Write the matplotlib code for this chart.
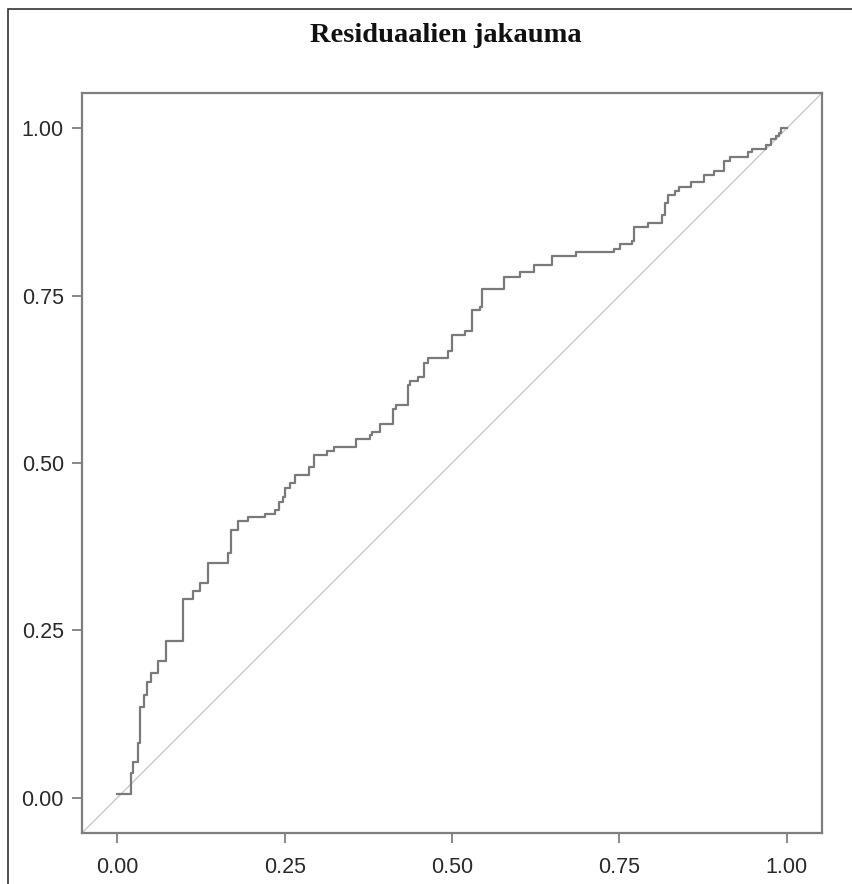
import matplotlib.pyplot as plt
from matplotlib.patches import Rectangle

# step breakpoints of the empirical distribution (x) and level after each step (y)
step_x = [0.000, 0.0205, 0.023, 0.030, 0.034, 0.040, 0.044, 0.050, 0.060, 0.072,
          0.098, 0.113, 0.123, 0.135, 0.165, 0.170, 0.180, 0.195, 0.221, 0.236,
          0.241, 0.248, 0.251, 0.258, 0.266, 0.287, 0.293, 0.313, 0.323, 0.356,
          0.378, 0.381, 0.392, 0.412, 0.417, 0.434, 0.437, 0.449, 0.458, 0.464,
          0.494, 0.500, 0.520, 0.530, 0.542, 0.545, 0.577, 0.601, 0.622, 0.650,
          0.686, 0.742, 0.751, 0.769, 0.772, 0.793, 0.814, 0.819, 0.823, 0.834,
          0.840, 0.857, 0.876, 0.891, 0.906, 0.915, 0.943, 0.949, 0.969, 0.977,
          0.984, 0.988, 0.991, 1.000]
step_y = [0.006, 0.036, 0.053, 0.081, 0.135, 0.153, 0.173, 0.186, 0.204, 0.234,
          0.296, 0.308, 0.321, 0.350, 0.365, 0.400, 0.413, 0.420, 0.424, 0.430,
          0.442, 0.449, 0.463, 0.470, 0.482, 0.494, 0.512, 0.518, 0.524, 0.536,
          0.542, 0.547, 0.558, 0.581, 0.587, 0.617, 0.623, 0.629, 0.649, 0.657,
          0.667, 0.692, 0.698, 0.728, 0.733, 0.760, 0.778, 0.785, 0.796, 0.809,
          0.815, 0.820, 0.827, 0.832, 0.853, 0.859, 0.871, 0.889, 0.901, 0.907,
          0.912, 0.920, 0.931, 0.937, 0.952, 0.958, 0.965, 0.970, 0.976, 0.984,
          0.988, 0.993, 1.000, 1.000]
ticks = [0.0, 0.25, 0.5, 0.75, 1.0]
tick_labels = ["0.00", "0.25", "0.50", "0.75", "1.00"]
title = "Residuaalien jakauma"

W, H = 852, 884
fig = plt.figure(figsize=(W / 100, H / 100), dpi=100)
ax = fig.add_axes([82 / W, 1 - 833 / H, 740 / W, 740 / H])

lim = (-0.053, 1.053)
ax.set_xlim(lim)
ax.set_ylim(lim)
ax.plot(lim, lim, color="#c8c8c8", lw=1.0, zorder=1)
ax.step(step_x, step_y, where="post", color="#7a7a7a", lw=1.6, zorder=2)

ax.set_xticks(ticks)
ax.set_xticklabels(tick_labels)
ax.set_yticks(ticks)
ax.set_yticklabels(tick_labels)
ax.tick_params(direction="out", length=7, width=1.3, color="#7f7f7f",
               labelsize=15.5, labelcolor="#2a2a2a")
ax.tick_params(axis="x", pad=10)
ax.tick_params(axis="y", pad=6)
for lab in ax.get_xticklabels() + ax.get_yticklabels():
    lab.set_family("Liberation Sans")
for sp in ax.spines.values():
    sp.set_color("#7f7f7f")
    sp.set_linewidth(1.6)

# outer frame, only left and top edges visible
fig.patches.append(Rectangle((7.5 / W, -0.1), 1.2, 1 - 9.5 / H + 0.1,
                             transform=fig.transFigure, fill=False,
                             edgecolor="#333333", lw=1.2))

fig.text(446 / W, 1 - 36 / H, title, ha="center", va="center",
         family="Liberation Serif", weight="bold", fontsize=20.5, color="#111111")

fig.savefig("out.png", dpi=100)
